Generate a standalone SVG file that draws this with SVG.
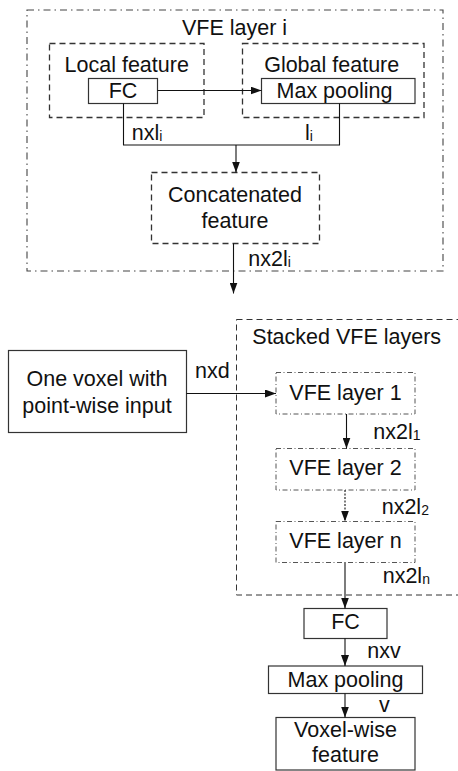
<svg xmlns="http://www.w3.org/2000/svg" width="458" height="771" viewBox="0 0 458 771">
<defs>
<marker id="arr" markerUnits="userSpaceOnUse" markerWidth="11" markerHeight="8" refX="11" refY="4" orient="auto">
<path d="M0,0 L11,4 L0,8 z" fill="#111"/>
</marker>
<style>
text{font-family:"Liberation Sans",Arial,sans-serif;font-size:21.5px;fill:#111}
.c{text-anchor:middle}
.sub{font-size:14px}
.solid{fill:#fff;stroke:#333;stroke-width:1.2}
.dash{fill:none;stroke:#333;stroke-width:1.3;stroke-dasharray:6,4}
.dashdot{fill:none;stroke:#444;stroke-width:1.1;stroke-dasharray:7,4,1.5,4}
.dd2{fill:none;stroke:#555;stroke-width:1;stroke-dasharray:5,2.5,1,2.5}
.conn{fill:none;stroke:#111;stroke-width:1.1}
.arrow{marker-end:url(#arr)}
.dotted{stroke-dasharray:2,1.5}
</style>
</defs>
<rect width="458" height="771" fill="#fff"/>

<g id="vfe-layer-i">
<rect class="dashdot" x="27" y="10" width="416" height="261"/>
<text class="c" x="234.5" y="35">VFE layer i</text>
</g>
<g id="local-feature">
<rect class="dash" x="49.5" y="43.5" width="154.5" height="74"/>
<text class="c" x="126.7" y="71.7">Local feature</text>
</g>
<g id="fc-local">
<rect class="solid" x="88.5" y="78.5" width="69" height="25"/>
<text class="c" x="123" y="98">FC</text>
</g>
<g id="global-feature">
<rect class="dash" x="242.5" y="43.5" width="181.5" height="74"/>
<text class="c" x="331.7" y="71.7">Global feature</text>
</g>
<g id="maxpool-global">
<rect class="solid" x="261.5" y="78.5" width="153.5" height="25"/>
<text class="c" x="334.5" y="98">Max pooling</text>
</g>
<g id="concatenated">
<rect class="dash" x="151.5" y="172.5" width="168" height="71"/>
<text class="c" x="235" y="201.7">Concatenated</text>
<text class="c" x="235" y="228.3">feature</text>
</g>
<g id="one-voxel">
<rect class="solid" x="8.5" y="350.5" width="178" height="82"/>
<text class="c" x="97" y="386">One voxel with</text>
<text class="c" x="97" y="413.3">point-wise input</text>
</g>
<g id="stacked">
<rect class="dash" x="236.5" y="319.5" width="235" height="275.5" style="stroke-width:1;stroke-dasharray:6,4"/>
<text x="252.3" y="344">Stacked VFE layers</text>
</g>
<g id="vfe1">
<rect class="dd2" x="276" y="372.5" width="139" height="41.5"/>
<text class="c" x="345.5" y="400">VFE layer 1</text>
</g>
<g id="vfe2">
<rect class="dd2" x="276" y="448.5" width="139" height="41.5"/>
<text class="c" x="345.5" y="475">VFE layer 2</text>
</g>
<g id="vfen">
<rect class="dd2" x="276" y="521.5" width="139" height="41"/>
<text class="c" x="345.5" y="548.3">VFE layer n</text>
</g>
<g id="fc">
<rect class="solid" x="304" y="608.5" width="83" height="30"/>
<text class="c" x="345.5" y="629.3">FC</text>
</g>
<g id="maxpool">
<rect class="solid" x="268.5" y="666" width="154" height="27.5"/>
<text class="c" x="345.5" y="687.3">Max pooling</text>
</g>
<g id="voxel-wise">
<rect class="solid" x="276" y="717.5" width="139" height="52.5"/>
<text class="c" x="345.5" y="737.3">Voxel-wise</text>
<text class="c" x="345.5" y="761.7">feature</text>
</g>

<g id="connectors">
<path class="conn arrow" d="M157.5 90.5 H261.5"/>
<path class="conn" d="M123.5 103.5 V145 H339.5 V103.5"/>
<path class="conn arrow" d="M236 145 V172.5"/>
<path class="conn arrow" d="M233.5 243.5 V293.5"/>
<path class="conn arrow" d="M186.5 393.5 H276"/>
<path class="conn arrow" d="M346.5 414 V448.5"/>
<path class="conn arrow dotted" d="M345 490 V521.5"/>
<path class="conn arrow" d="M345 562.5 V608.5"/>
<path class="conn arrow" d="M345 638.5 V666"/>
<path class="conn arrow" d="M345 693.5 V717.5"/>
<text x="131.7" y="140">nxl<tspan class="sub" dy="1">i</tspan></text>
<text x="305" y="140">l<tspan class="sub" dy="1">i</tspan></text>
<text x="248.3" y="266">nx2l<tspan class="sub" dy="1">i</tspan></text>
<text x="195" y="378.3">nxd</text>
<text x="373.3" y="439.3">nx2l<tspan class="sub" dy="1">1</tspan></text>
<text x="381.7" y="514">nx2l<tspan class="sub" dy="1">2</tspan></text>
<text x="382.7" y="582.7">nx2l<tspan class="sub" dy="1">n</tspan></text>
<text x="367.3" y="658.3">nxv</text>
<text x="379" y="711.7">v</text>
</g>
</svg>
